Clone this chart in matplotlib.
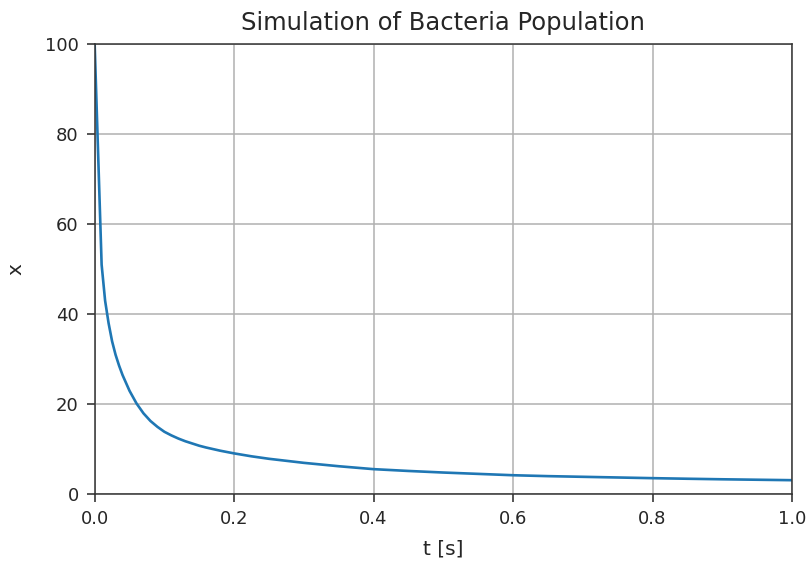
import matplotlib
matplotlib.use("Agg")
import matplotlib.pyplot as plt

t_values = [0.0, 0.01, 0.015, 0.02, 0.025, 0.03, 0.035, 0.04, 0.05, 0.06, 0.07,
            0.08, 0.09, 0.10, 0.11, 0.12, 0.13, 0.14, 0.15, 0.16, 0.18, 0.20,
            0.225, 0.25, 0.275, 0.30, 0.35, 0.40, 0.45, 0.50, 0.55,
            0.60, 0.65, 0.70, 0.75, 0.80, 0.85, 0.90, 0.95, 1.00]
x_values = [100.0, 51.0, 43.0, 38.0, 34.0, 31.0, 28.6, 26.5, 23.0, 20.2, 18.0,
            16.3, 15.0, 13.9, 13.1, 12.4, 11.8, 11.3, 10.8, 10.4, 9.7, 9.1,
            8.45, 7.9, 7.45, 7.0, 6.25, 5.6, 5.2, 4.85, 4.55,
            4.25, 4.05, 3.9, 3.75, 3.6, 3.47, 3.35, 3.25, 3.15]

title = "Simulation of Bacteria Population"
xlabel = "t [s]"
ylabel = "x"

text_color = "#262626"
plt.rcParams["text.color"] = text_color
plt.rcParams["axes.labelcolor"] = text_color
plt.rcParams["xtick.color"] = text_color
plt.rcParams["ytick.color"] = text_color

fig = plt.figure(figsize=(8.09, 5.65), dpi=100)
ax = fig.add_axes([0.117, 0.125, 0.862, 0.797])
ax.plot(t_values, x_values, color="#1f77b4", linewidth=1.9)
ax.set_xlim(0, 1.0)
ax.set_ylim(0, 100)
ax.grid(True, color="#b0b0b0", linewidth=1.1)
for s in ax.spines.values():
    s.set_color("#333333")
    s.set_linewidth(1.1)
ax.set_title(title, fontsize=17.5, pad=10)
ax.set_xlabel(xlabel, fontsize=14.5, labelpad=8)
ax.set_ylabel(ylabel, fontsize=14.5, labelpad=14)
ax.tick_params(labelsize=13, length=5.5, width=1.1, pad=6)
fig.savefig("out.png", dpi=100)
